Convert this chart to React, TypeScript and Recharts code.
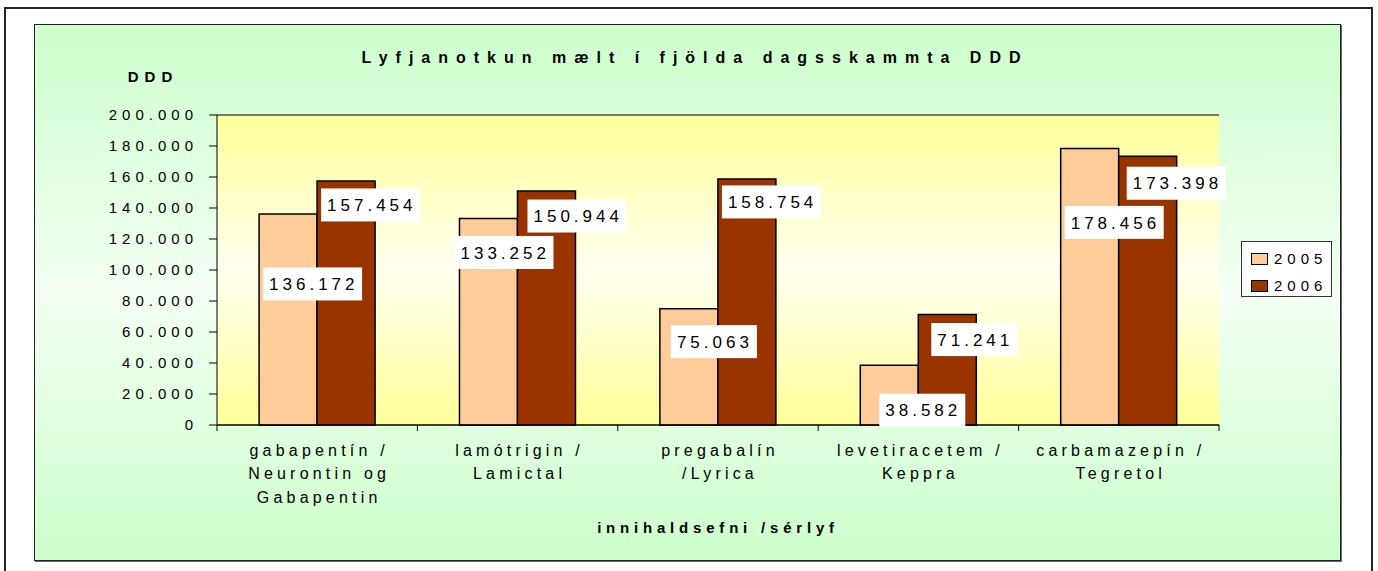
import React from "react";
import { BarChart, Bar, XAxis, YAxis, CartesianGrid, Legend, LabelList } from "recharts";

const categories: string[] = [
  "gabapentín /\nNeurontin og\nGabapentin",
  "lamótrigin /\nLamictal",
  "pregabalín\n/Lyrica",
  "levetiracetem /\nKeppra",
  "carbamazepín /\nTegretol",
];
const values2005: number[] = [136172, 133252, 75063, 38582, 178456];
const values2006: number[] = [157454, 150944, 158754, 71241, 173398];
const yTicks: number[] = [0, 20000, 40000, 60000, 80000, 100000, 120000, 140000, 160000, 180000, 200000];
const seriesNames = ["2005", "2006"];

// label placement (offsets relative to each bar: box-left dx, box-center dy from bar top)
const labelDx2005 = [4, -5, 11, 19, 4];
const labelDy2005 = [70, 34, 33, 45, 74];
const labelDx2006 = [4, 10, 4, 13, 8];
const labelDy2006 = [24, 25, 23, 25, 27];

const data = categories.map((c, i) => ({ name: c, v2005: values2005[i], v2006: values2006[i] }));

const W = 1378;
const H = 571;
const PLOT_LEFT = 217;
const PLOT_TOP = 115;
const PLOT_RIGHT = 1219;
const PLOT_BOTTOM = 425;
const X_AXIS_H = 60;
const BAND = (PLOT_RIGHT - PLOT_LEFT) / categories.length;

const FONT = "'Liberation Sans', Arial, Helvetica, sans-serif";
const C2005 = "#FFCC99";
const C2006 = "#993300";

const fmt = (v: number) => {
  if (v === 0) return "0";
  const s = String(Math.round(v));
  return s.replace(/\B(?=(\d{3})+(?!\d))/g, ".");
};

const YTick = (props: any) => {
  const { x, y, payload } = props;
  return (
    <text x={x} y={y} dy="0.36em" textAnchor="end" fontFamily={FONT} fontSize={15} letterSpacing={5} fill="#000">
      {fmt(payload.value)}
    </text>
  );
};

const XTick = (props: any) => {
  const { x, y, payload, index } = props;
  const lines = String(payload.value).split("\n");
  return (
    <g>
      <line x1={x - BAND / 2} x2={x - BAND / 2} y1={y} y2={y + 6} stroke="#000" strokeWidth={1} />
      {index === categories.length - 1 && (
        <line x1={x + BAND / 2} x2={x + BAND / 2} y1={y} y2={y + 6} stroke="#000" strokeWidth={1} />
      )}
      {lines.map((ln, i) => (
        <text key={i} x={x + 2} y={y + 25 + i * 23.5} dy="0.36em" textAnchor="middle" fontFamily={FONT} fontSize={16} letterSpacing={4.2} fill="#000">
          {ln}
        </text>
      ))}
    </g>
  );
};

const makeLabel = (dxArr: number[], dyArr: number[]) => (props: any) => {
  const { x, y, index, value } = props;
  const txt = fmt(Number(value));
  const bw = txt.length * 13 + 8;
  const bh = 33;
  const left = Number(x) + dxArr[index];
  const cy = Number(y) + dyArr[index];
  return (
    <g>
      <rect x={left} y={cy - bh / 2} width={bw} height={bh} fill="#FFFFFF" />
      <text x={left + 6} y={cy} dy="0.36em" textAnchor="start" fontFamily={FONT} fontSize={17} letterSpacing={4} fill="#000">
        {txt}
      </text>
    </g>
  );
};

const LegendBox = () => (
  <div
    style={{
      width: 91,
      height: 56,
      border: "1px solid #333",
      background: "#FFFFFF",
      boxSizing: "border-box",
      fontFamily: FONT,
      fontSize: 15,
      letterSpacing: 5,
      color: "#000",
      paddingTop: 3,
      textAlign: "left",
    }}
  >
    {seriesNames.map((n, i) => (
      <div key={n} style={{ display: "flex", alignItems: "center", height: 27, paddingLeft: 9 }}>
        <span
          style={{
            display: "inline-block",
            width: 15,
            height: 10,
            background: i === 0 ? C2005 : C2006,
            border: "1px solid #000",
            marginRight: 6,
          }}
        />
        <span>{n}</span>
      </div>
    ))}
  </div>
);

const boldText: React.CSSProperties = {
  position: "absolute",
  textAlign: "center",
  fontFamily: FONT,
  fontWeight: "bold",
  lineHeight: "18px",
  color: "#000",
  whiteSpace: "nowrap",
};

export default function App() {
  return (
    <div style={{ position: "absolute", left: 0, top: 0, width: W, height: H, overflow: "hidden", background: "#fff" }}>
      {/* outer frame */}
      <div
        style={{
          position: "absolute",
          left: 4,
          top: 7,
          width: 1369,
          height: 580,
          border: "2px solid #222",
          boxSizing: "border-box",
        }}
      />
      {/* chart area panel */}
      <div
        style={{
          position: "absolute",
          left: 34,
          top: 24,
          width: 1307,
          height: 537,
          border: "1px solid #222",
          boxSizing: "border-box",
          boxShadow: "1px 1px 0 #666",
          background: "linear-gradient(to bottom, #CCFFCC 0%, #F3FFF3 50%, #CCFFCC 100%)",
        }}
      />
      <div style={{ ...boldText, left: 0, width: 1390, top: 49, fontSize: 16, letterSpacing: 8 }}>
        Lyfjanotkun mælt í fjölda dagsskammta DDD
      </div>
      <div style={{ ...boldText, left: 100, width: 106, top: 68, fontSize: 15, letterSpacing: 6 }}>DDD</div>
      <div style={{ ...boldText, left: 0, width: 1436, top: 519, fontSize: 15, letterSpacing: 4.8 }}>
        innihaldsefni /sérlyf
      </div>
      <div style={{ position: "absolute", left: 0, top: 0 }}>
        <BarChart
          width={W}
          height={H}
          data={data}
          margin={{ top: PLOT_TOP, right: W - PLOT_RIGHT, bottom: H - PLOT_BOTTOM - X_AXIS_H, left: 0 }}
          barCategoryGap="21%"
          barGap={0}
        >
          <defs>
            <linearGradient id="plotBg" x1="0" y1="0" x2="0" y2="1">
              <stop offset="0%" stopColor="#FFFF99" />
              <stop offset="50%" stopColor="#FFFFF0" />
              <stop offset="100%" stopColor="#FFFF99" />
            </linearGradient>
          </defs>
          <CartesianGrid vertical={false} stroke="#000" strokeWidth={1} fill="url(#plotBg)" fillOpacity={1} />
          <XAxis
            dataKey="name"
            xAxisId="main"
            height={X_AXIS_H}
            axisLine={{ stroke: "#000", strokeWidth: 1 }}
            tickLine={false}
            tickSize={0}
            tickMargin={0}
            interval={0}
            tick={<XTick />}
          />
          <XAxis dataKey="name" xAxisId="top" orientation="top" height={0} axisLine={{ stroke: "#808080" }} tick={false} tickLine={false} />
          <YAxis
            yAxisId="main"
            width={PLOT_LEFT}
            domain={[0, 200000]}
            ticks={yTicks}
            interval={0}
            axisLine={{ stroke: "#000", strokeWidth: 1 }}
            tickLine={{ stroke: "#000" }}
            tickSize={8}
            tickMargin={11}
            tick={<YTick />}
          />
          <YAxis yAxisId="right" orientation="right" width={0} domain={[0, 200000]} axisLine={{ stroke: "#808080" }} tick={false} tickLine={false} />
          <Legend
            verticalAlign="middle"
            align="center"
            layout="horizontal"
            wrapperStyle={{ position: "absolute", left: 1241, top: 241, width: 91, height: 56 }}
            content={<LegendBox />}
          />
          <Bar dataKey="v2005" name="2005" xAxisId="main" yAxisId="main" fill={C2005} stroke="#000" strokeWidth={1.5} isAnimationActive={false}>
            <LabelList dataKey="v2005" content={makeLabel(labelDx2005, labelDy2005)} />
          </Bar>
          <Bar dataKey="v2006" name="2006" xAxisId="main" yAxisId="main" fill={C2006} stroke="#000" strokeWidth={1.5} isAnimationActive={false}>
            <LabelList dataKey="v2006" content={makeLabel(labelDx2006, labelDy2006)} />
          </Bar>
        </BarChart>
      </div>
    </div>
  );
}
